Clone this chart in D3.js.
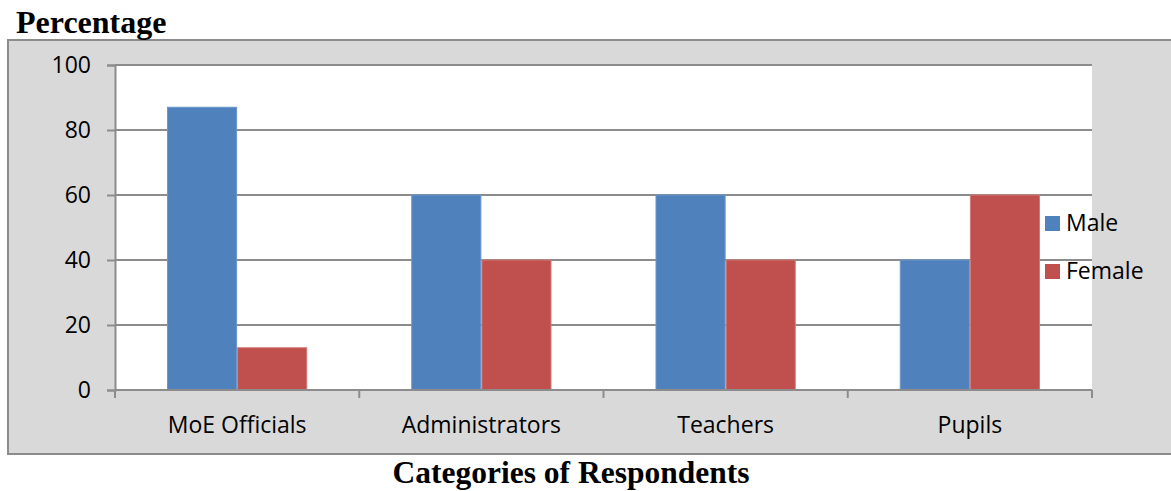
<!DOCTYPE html>
<html>
<head>
<meta charset="utf-8">
<script src="https://cdn.jsdelivr.net/npm/d3@7"></script>
<style>
  html, body { margin: 0; padding: 0; background: #ffffff; }
  svg { display: block; }
</style>
</head>
<body>
<svg id="chart" width="1171" height="491"></svg>
<script>
// Respondent categories and share (%) by gender
const categories = ["MoE Officials", "Administrators", "Teachers", "Pupils"];
const seriesNames = ["Male", "Female"];
const maleValues = [87, 60, 60, 40];
const femaleValues = [13, 40, 40, 60];
const yTicks = [0, 20, 40, 60, 80, 100];

const colors = { Male: "#4F81BD", Female: "#C0504D" };
const strokes = { Male: "#6b97cc", Female: "#d27a77" };
const labelFont = "'Open Sans', Lato, sans-serif";
const labelSize = 23;

const rows = categories.map((c, i) => ({
  category: c,
  values: [
    { series: "Male", value: maleValues[i] },
    { series: "Female", value: femaleValues[i] }
  ]
}));

const svg = d3.select("#chart");

// chart frame
const frame = { left: 8, top: 40, right: 1175, bottom: 454 };
const plot = { left: 115, top: 65, right: 1092, bottom: 390 };

svg.append("rect")
  .attr("x", frame.left).attr("y", frame.top)
  .attr("width", frame.right - frame.left).attr("height", frame.bottom - frame.top)
  .attr("fill", "#d9d9d9").attr("stroke", "#8c8c8c").attr("stroke-width", 2);

svg.append("rect")
  .attr("x", plot.left).attr("y", plot.top)
  .attr("width", plot.right - plot.left).attr("height", plot.bottom - plot.top)
  .attr("fill", "#ffffff");

const x0 = d3.scaleBand().domain(categories).range([plot.left, plot.right]).padding(0);
const gap = 52;
const x1 = d3.scaleBand().domain(seriesNames).range([gap, x0.bandwidth() - gap]).padding(0);
const y = d3.scaleLinear().domain([0, 100]).range([plot.bottom, plot.top]);

// gridlines
svg.append("g")
  .selectAll("line")
  .data(yTicks.filter(t => t > 0))
  .join("line")
  .attr("x1", plot.left).attr("x2", plot.right)
  .attr("y1", d => y(d)).attr("y2", d => y(d))
  .attr("stroke", "#8c8c8c").attr("stroke-width", 2);

// bars
const groups = svg.append("g")
  .selectAll("g")
  .data(rows)
  .join("g")
  .attr("transform", d => `translate(${x0(d.category)},0)`);

groups.selectAll("rect")
  .data(d => d.values)
  .join("rect")
  .attr("x", d => x1(d.series) + 0.5)
  .attr("y", d => y(d.value))
  .attr("width", x1.bandwidth() - 1)
  .attr("height", d => y(0) - y(d.value))
  .attr("fill", d => colors[d.series])
  .attr("stroke", d => strokes[d.series])
  .attr("stroke-width", 1);

// y axis
const yAxis = d3.axisLeft(y).tickValues(yTicks).tickSize(8).tickPadding(16);
const gy = svg.append("g")
  .attr("transform", `translate(${plot.left},0)`)
  .call(yAxis);
gy.select(".domain").attr("stroke", "#8c8c8c").attr("stroke-width", 2);
gy.selectAll(".tick line").attr("stroke", "#8c8c8c").attr("stroke-width", 2);
gy.selectAll(".tick text")
  .attr("font-family", labelFont)
  .attr("font-size", labelSize)
  .attr("fill", "#000");

// x axis with boundary ticks
const gx = svg.append("g")
  .attr("transform", `translate(0,${plot.bottom})`);
gx.append("line")
  .attr("x1", plot.left).attr("x2", plot.right)
  .attr("stroke", "#8c8c8c").attr("stroke-width", 2);
const boundaries = categories.map(c => x0(c)).concat([x0(categories[categories.length - 1]) + x0.bandwidth()]);
gx.selectAll("line.b")
  .data(boundaries)
  .join("line")
  .attr("class", "b")
  .attr("x1", d => d).attr("x2", d => d)
  .attr("y1", 0).attr("y2", 8)
  .attr("stroke", "#8c8c8c").attr("stroke-width", 2);
gx.selectAll("text")
  .data(categories)
  .join("text")
  .attr("x", d => x0(d) + x0.bandwidth() / 2)
  .attr("y", 43)
  .attr("text-anchor", "middle")
  .attr("font-family", labelFont)
  .attr("font-size", labelSize)
  .attr("fill", "#000")
  .text(d => d);

// legend
const legend = svg.append("g").attr("transform", "translate(1045,216)");
const li = legend.selectAll("g")
  .data(seriesNames)
  .join("g")
  .attr("transform", (d, i) => `translate(0,${i * 48})`);
li.append("rect")
  .attr("width", 15).attr("height", 15)
  .attr("fill", d => colors[d]);
li.append("text")
  .attr("x", 21).attr("y", 15)
  .attr("font-family", labelFont)
  .attr("font-size", labelSize)
  .attr("fill", "#000")
  .text(d => d);

// titles
svg.append("text")
  .attr("x", 16).attr("y", 33)
  .attr("font-family", "'Liberation Serif', 'Times New Roman', serif")
  .attr("font-weight", "bold")
  .attr("font-size", 32)
  .attr("fill", "#000")
  .text("Percentage");

svg.append("text")
  .attr("x", 571).attr("y", 483)
  .attr("text-anchor", "middle")
  .attr("font-family", "'Liberation Serif', 'Times New Roman', serif")
  .attr("font-weight", "bold")
  .attr("font-size", 31.5)
  .attr("fill", "#000")
  .text("Categories of Respondents");
</script>
</body>
</html>
